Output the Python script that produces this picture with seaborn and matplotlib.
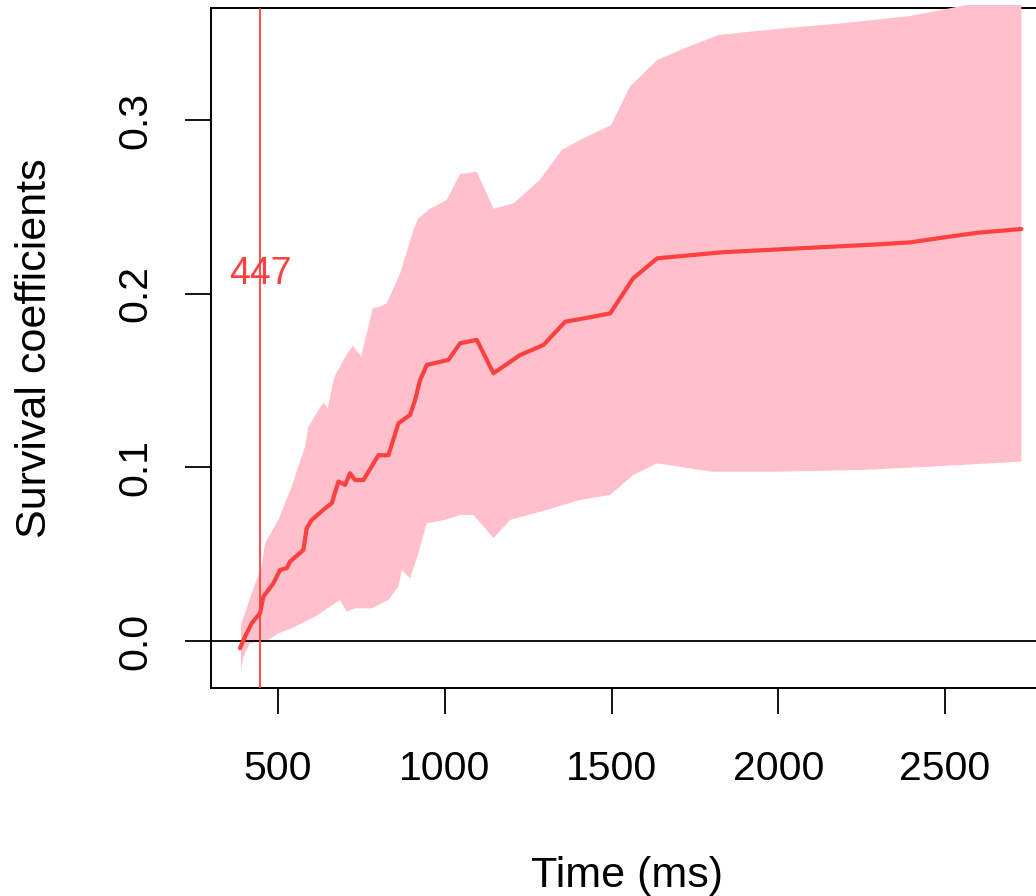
import numpy as np
import pandas as pd
import matplotlib
matplotlib.use("Agg")
import matplotlib.pyplot as plt
from matplotlib.transforms import Bbox, TransformedBbox
import seaborn as sns

# Estimated survival coefficient over time (ms)
time_ms = [386, 401, 421, 446, 456, 486, 506, 526, 536, 576, 586, 601, 641, 661,
           681, 701, 716, 731, 756, 801, 831, 861, 896, 911, 926, 946, 1011, 1046,
           1096, 1146, 1226, 1296, 1361, 1445, 1496, 1565, 1637, 1832, 2057, 2293,
           2396, 2498, 2601, 2729]
coef_mean = [-0.0042, 0.0025, 0.0102, 0.0160, 0.0255, 0.0332, 0.0409, 0.0419,
             0.0457, 0.0524, 0.0649, 0.0697, 0.0764, 0.0793, 0.0918, 0.0899,
             0.0966, 0.0927, 0.0927, 0.1070, 0.1070, 0.1254, 0.1302, 0.1388,
             0.1503, 0.1590, 0.1619, 0.1715, 0.1734, 0.1542, 0.1647, 0.1705,
             0.1839, 0.1868, 0.1887, 0.2089, 0.2204, 0.2239, 0.2261, 0.2284,
             0.2296, 0.2325, 0.2352, 0.2373]

# Upper confidence bound
upper_time = [389, 401, 421, 451, 461, 501, 541, 554, 581, 591, 631, 639, 649,
              666, 674, 704, 724, 749, 784, 806, 826, 866, 906, 921, 956, 1006,
              1046, 1096, 1146, 1206, 1285, 1351, 1406, 1499, 1555, 1637, 1719,
              1822, 1986, 2191, 2396, 2529, 2729]
upper_coef = [0.0095, 0.0160, 0.0275, 0.0428, 0.0563, 0.0697, 0.0889, 0.0966,
              0.1119, 0.1234, 0.1360, 0.1370, 0.1340, 0.1500, 0.1540, 0.1643,
              0.1700, 0.1640, 0.1916, 0.1926, 0.1945, 0.2117, 0.2367, 0.2435,
              0.2490, 0.2540, 0.2690, 0.2703, 0.2490, 0.2520, 0.2656, 0.2828,
              0.2886, 0.2972, 0.3193, 0.3347, 0.3414, 0.3491, 0.3523, 0.3558,
              0.3600, 0.3650, 0.3720]

# Lower confidence bound
lower_time = [389, 396, 416, 471, 501, 541, 611, 686, 706, 731, 781, 831, 861,
              871, 896, 921, 946, 1001, 1046, 1086, 1146, 1196, 1306, 1406, 1496,
              1565, 1637, 1801, 1986, 2252, 2457, 2729]
lower_coef = [-0.0167, -0.0090, -0.0013, 0.0006, 0.0044, 0.0073, 0.0140, 0.0236,
              0.0169, 0.0188, 0.0188, 0.0236, 0.0313, 0.0409, 0.0361, 0.0505,
              0.0678, 0.0697, 0.0726, 0.0726, 0.0592, 0.0697, 0.0755, 0.0812,
              0.0841, 0.0956, 0.1023, 0.0975, 0.0975, 0.0985, 0.1004, 0.1033]

onset_ms = 447
onset_label = "447"
x_ticks = [500, 1000, 1500, 2000, 2500]
y_ticks = [0.0, 0.1, 0.2, 0.3]
y_tick_labels = ["0.0", "0.1", "0.2", "0.3"]

sns.set_theme(style="white")
plt.rcParams["font.family"] = ["Liberation Sans", "DejaVu Sans"]

W, H = 1036, 896
fig = plt.figure(figsize=(W / 100, H / 100), dpi=100)
fig.patch.set_facecolor("white")
ax = fig.add_axes([211 / W, 208 / H, 841.7 / W, 680 / H])
ax.set_facecolor("white")

RED = "#FF4040"
PINK = "#FFC0CB"

# confidence band as a polygon: upper edge forward, lower edge back
poly_x = np.concatenate([upper_time, lower_time[::-1]])
poly_y = np.concatenate([upper_coef, lower_coef[::-1]])
band = ax.fill(poly_x, poly_y, color=PINK, lw=0, zorder=1)[0]
band.set_clip_box(TransformedBbox(Bbox([[0, -0.01], [1, 1.004]]), ax.transAxes))

df = pd.DataFrame({"time": time_ms, "coef": coef_mean})
sns.lineplot(data=df, x="time", y="coef", color=RED, lw=3.0, ax=ax, zorder=3)

ax.axhline(0, color="black", lw=1.3, zorder=2)
ax.axvline(onset_ms, color=RED, lw=1.3, zorder=4)
ax.text(onset_ms, 0.2058, onset_label, color=RED, fontsize=27,
        ha="center", va="baseline", zorder=5)

ax.set_xlim(299, 2823)
ax.set_ylim(-0.0271, 0.3646)
ax.set_xticks(x_ticks)
ax.set_yticks(y_ticks)
ax.set_yticklabels(y_tick_labels)
ax.tick_params(axis="both", direction="out", length=18.7, width=1.3,
               color="black", labelsize=29.5, labelcolor="black",
               left=True, bottom=True)
ax.tick_params(axis="x", pad=26)
ax.tick_params(axis="y", pad=22)
plt.setp(ax.get_yticklabels(), rotation=90, va="center")

for side in ["left", "right", "top", "bottom"]:
    ax.spines[side].set_visible(True)
    ax.spines[side].set_color("black")
    ax.spines[side].set_linewidth(1.4)
    ax.spines[side].set_zorder(0.5)

ax.set_xlabel("Time (ms)", fontsize=31, color="black", va="center")
ax.set_ylabel("Survival coefficients", fontsize=31, color="black", va="center")
ax.xaxis.set_label_coords(0.494, (896 - 876 - 208) / 680)
ax.yaxis.set_label_coords((35 - 211) / 841.7, 0.5)

fig.savefig("out.png", dpi=100, facecolor="white")
